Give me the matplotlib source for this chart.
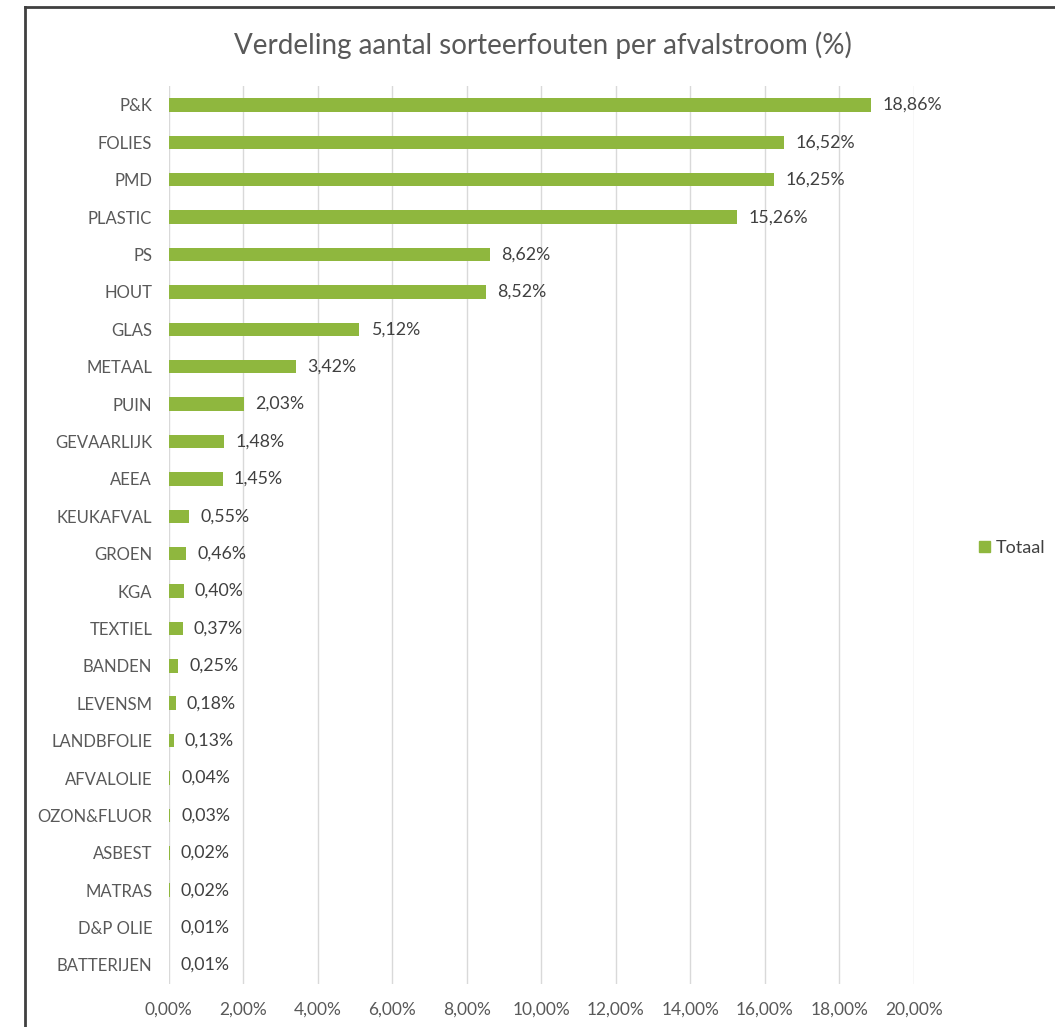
import matplotlib
matplotlib.use("Agg")
import matplotlib.pyplot as plt
from matplotlib.lines import Line2D
from matplotlib.patches import Patch

categories = ["P&K", "FOLIES", "PMD", "PLASTIC", "PS", "HOUT", "GLAS", "METAAL", "PUIN",
              "GEVAARLIJK", "AEEA", "KEUKAFVAL", "GROEN", "KGA", "TEXTIEL", "BANDEN",
              "LEVENSM", "LANDBFOLIE", "AFVALOLIE", "OZON&FLUOR", "ASBEST", "MATRAS",
              "D&P OLIE", "BATTERIJEN"]
values = [18.86, 16.52, 16.25, 15.26, 8.62, 8.52, 5.12, 3.42, 2.03, 1.48, 1.45, 0.55,
          0.46, 0.40, 0.37, 0.25, 0.18, 0.13, 0.04, 0.03, 0.02, 0.02, 0.01, 0.01]
xticks = [0, 2, 4, 6, 8, 10, 12, 14, 16, 18, 20]

plt.rcParams['font.family'] = ['Lato', 'DejaVu Sans']

fig = plt.figure(figsize=(10.55, 10.27), dpi=100)
ax = fig.add_axes([0.160, 0.0422, 0.706, 0.8738])

bar_color = '#8fb73e'
y = list(range(len(categories)))
ax.barh(y, values, height=0.36, color=bar_color, zorder=3)
ax.set_ylim(len(categories) - 0.5, -0.5)
ax.set_xlim(0, 20)
ax.set_yticks(y)
ax.set_yticklabels(categories, fontsize=12, color='#595959')
ax.set_xticks(xticks)
ax.set_xticklabels([f"{t:.2f}%".replace('.', ',') for t in xticks], fontsize=12.5, color='#595959')
ax.tick_params(axis='both', length=0)
ax.tick_params(axis='y', pad=12)
ax.tick_params(axis='x', pad=13)
for s in ax.spines.values():
    s.set_visible(False)
ax.grid(axis='x', color='#d9d9d9', linewidth=1, zorder=0)

for yi, v in zip(y, values):
    ax.annotate(f"{v:.2f}%".replace('.', ','), (v, yi), xytext=(8, 0),
                textcoords='offset points', va='center', ha='left',
                fontsize=12.8, color='#404040')

fig.text(543/1055, 1 - 45/1027, "Verdeling aantal sorteerfouten per afvalstroom (%)",
         ha='center', va='center', fontsize=20, color='#595959')

leg = fig.legend(handles=[Patch(color=bar_color, label='Totaal')], loc='center left',
                 bbox_to_anchor=(979/1055, 1 - 548/1027), frameon=False, fontsize=13,
                 handlelength=0.6, handleheight=0.6, handletextpad=0.35,
                 borderaxespad=0, borderpad=0)
for t in leg.get_texts():
    t.set_color('#404040')

# outer frame lines (left and top)
fig.add_artist(Line2D([25/1055, 25/1055], [0, 1 - 7/1027], transform=fig.transFigure,
                      color='#404040', linewidth=2))
fig.add_artist(Line2D([25/1055, 1], [1 - 7/1027, 1 - 7/1027], transform=fig.transFigure,
                      color='#404040', linewidth=2))

fig.savefig("out.png", dpi=100)
